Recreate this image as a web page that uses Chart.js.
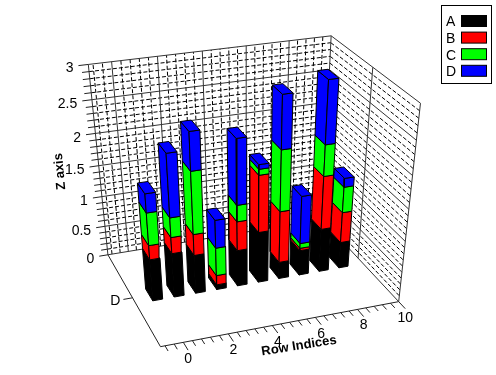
<!DOCTYPE html>
<html>
<head>
<meta charset="utf-8">
<script src="https://cdn.jsdelivr.net/npm/chart.js@4/dist/chart.umd.min.js"></script>
<style>
  html, body { margin: 0; padding: 0; background: #fff; }
  canvas { display: block; }
</style>
</head>
<body>
<canvas id="myChart" width="496" height="375"></canvas>
<script>
// stacked heights, one entry per row index 0..9
const rowIndices = [0, 1, 2, 3, 4, 5, 6, 7, 8, 9];
const seriesA = [0.69, 0.73, 0.64, 0.08, 0.60, 0.84, 0.28, 0.42, 0.72, 0.44];
const seriesB = [0.23, 0.26, 0.34, 0.16, 0.47, 0.90, 0.84, 0.04, 0.85, 0.50];
const seriesC = [0.51, 0.31, 0.97, 0.46, 0.26, 0.09, 0.95, 0.08, 0.48, 0.41];
const seriesD = [0.29, 0.96, 0.57, 0.45, 1.00, 0.07, 0.79, 0.77, 0.93, 0.14];
const seriesNames = ['A', 'B', 'C', 'D'];
const seriesColors = ['#000000', '#ff0000', '#00ff00', '#0000ff'];
const zTicks = ['0', '0.5', '1', '1.5', '2', '2.5', '3'];
const xTicks = ['0', '2', '4', '6', '8', '10'];

const xMin = -1, xMax = 10, zMax = 3;
const rowY = 0.5, barW = 0.23, barD = 0.065;

// where the corners of the box land on the page (x, y, z as fractions -> px)
const corners = [
  [0, 1, 0, 107.7, 256], [1, 1, 0, 322.6, 218], [1, 0, 0, 398, 303], [0, 0, 0, 160.7, 345.7],
  [0, 1, 1, 88.3, 64], [1, 1, 1, 330.7, 36.7], [1, 0, 1, 421, 102.7]
];

// least squares fit of the camera matrix from the corners
function fitCamera(pts) {
  const n = 11, A = [], b = [];
  pts.forEach(([X, Y, Z, u, v]) => {
    A.push([X, Y, Z, 1, 0, 0, 0, 0, -u * X, -u * Y, -u * Z]); b.push(u);
    A.push([0, 0, 0, 0, X, Y, Z, 1, -v * X, -v * Y, -v * Z]); b.push(v);
  });
  const M = [];
  for (let i = 0; i < n; i++) {
    M.push([]);
    for (let j = 0; j < n; j++) M[i].push(A.reduce((s, r) => s + r[i] * r[j], 0));
    M[i].push(A.reduce((s, r, k) => s + r[i] * b[k], 0));
  }
  for (let i = 0; i < n; i++) {
    let p = i;
    for (let k = i + 1; k < n; k++) if (Math.abs(M[k][i]) > Math.abs(M[p][i])) p = k;
    [M[i], M[p]] = [M[p], M[i]];
    for (let k = 0; k < n; k++) {
      if (k === i) continue;
      const f = M[k][i] / M[i][i];
      for (let j = i; j <= n; j++) M[k][j] -= f * M[i][j];
    }
  }
  return M.map((r, i) => r[n] / r[i]);
}
const cam = fitCamera(corners);

// x in row units, y fraction front->back, z in data units
function project(x, y, z) {
  const X = (x - xMin) / (xMax - xMin), Z = z / zMax;
  const w = cam[8] * X + cam[9] * y + cam[10] * Z + 1;
  return {
    x: (cam[0] * X + cam[1] * y + cam[2] * Z + cam[3]) / w,
    y: (cam[4] * X + cam[5] * y + cam[6] * Z + cam[7]) / w
  };
}

const painted = [];  // back to front

function poly(points, color) {
  painted.push({
    data: points.concat([points[0]]),
    borderColor: '#000', borderWidth: 1, backgroundColor: color, fill: 'shape',
    pointRadius: 0, tension: 0, borderJoinStyle: 'miter'
  });
}
function lines(segs, width, dash, color) {
  const data = [];
  segs.forEach(s => { data.push(s[0], s[1], { x: NaN, y: NaN }); });
  painted.push({
    data: data, borderColor: color, borderWidth: width, borderDash: dash,
    fill: false, pointRadius: 0, tension: 0, spanGaps: false
  });
}

// walls
const solid = [], dashed = [], ticks = [];
for (let i = 0; i <= 30; i++) {
  const z = i / 10, major = i % 5 === 0;
  const left = project(xMin, 1, z), mid = project(xMax, 1, z), right = project(xMax, 0, z);
  (major ? solid : dashed).push([left, mid], [mid, right]);
  ticks.push([left, project(xMin - (major ? 0.42 : 0.3), 1, z)]);
}
for (let i = -2; i <= 25; i++) {
  const x = i * 0.4, major = i % 5 === 0;
  if (x < xMin || x > xMax) continue;
  (major ? solid : dashed).push([project(x, 1, 0), project(x, 1, zMax)]);
  ticks.push([project(x, 0, 0), project(x, major ? -0.075 : -0.05, 0)]);
}
solid.push([project(xMin, 1, 0), project(xMin, 1, zMax)]);
solid.push([project(xMax, 0.5, 0), project(xMax, 0.5, zMax)]);
solid.push([project(xMax, 0, 0), project(xMax, 0, zMax)]);
ticks.push([project(xMin, 0.5, 0), project(xMin - 0.42, 0.5, 0)]);
lines(dashed, 1, [4, 2], '#000');
lines(solid, 1, [], '#333');
lines([[project(xMin, 1, 0), project(xMin, 0, 0)], [project(xMin, 0, 0), project(xMax, 0, 0)]].concat(ticks), 1, [], '#222');

// bars, right to left so the nearer ones cover the others
const stacks = [seriesA, seriesB, seriesC, seriesD];
for (let n = rowIndices.length - 1; n >= 0; n--) {
  const x0 = rowIndices[n] - barW, x1 = rowIndices[n] + barW;
  const y0 = rowY - barD, y1 = rowY + barD;
  let base = 0;
  stacks.forEach((s, k) => {
    const top = base + s[n];
    poly([project(x0, y1, base), project(x0, y0, base), project(x0, y0, top), project(x0, y1, top)], seriesColors[k]);
    poly([project(x0, y0, base), project(x1, y0, base), project(x1, y0, top), project(x0, y0, top)], seriesColors[k]);
    base = top;
  });
  poly([project(x0, y1, base), project(x0, y0, base), project(x1, y0, base), project(x1, y1, base)], seriesColors[3]);
}

const labelsPlugin = {
  id: 'labels',
  afterDraw(chart) {
    const ctx = chart.ctx;
    ctx.save();
    ctx.fillStyle = '#000';
    ctx.font = '14px "Liberation Sans"';
    ctx.textBaseline = 'middle';
    ctx.textAlign = 'right';
    zTicks.forEach((t, i) => {
      const p = project(xMin - 0.42, 1, i * 0.5);
      ctx.fillText(t, p.x - 5, p.y + 3);
    });
    const d = project(xMin - 0.42, 0.5, 0);
    ctx.fillText('D', d.x - 3, d.y + 2);
    ctx.textAlign = 'center';
    xTicks.forEach(t => {
      const p = project(+t, -0.075, 0);
      ctx.fillText(t, p.x, p.y + 9);
    });
    ctx.font = 'bold 13px "Liberation Sans"';
    ctx.save();
    ctx.translate(299, 346);
    ctx.rotate(-9 * Math.PI / 180);
    ctx.fillText('Row Indices', 0, 0);
    ctx.restore();
    ctx.save();
    ctx.translate(60, 171.5);
    ctx.rotate(-95 * Math.PI / 180);
    ctx.fillText('Z axis', 0, 0);
    ctx.restore();

    // legend box
    ctx.strokeStyle = '#000';
    ctx.lineWidth = 1;
    ctx.strokeRect(441.5, 5.5, 50, 78);
    ctx.font = '14px "Liberation Sans"';
    ctx.textAlign = 'left';
    seriesNames.forEach((name, i) => {
      const top = 15.5 + i * 16.6;
      ctx.fillStyle = '#000';
      ctx.fillText(name, 446, top + 7);
      ctx.fillStyle = seriesColors[i];
      ctx.fillRect(461.5, top, 25, 11);
      ctx.strokeRect(461.5, top, 25, 11);
    });
    ctx.restore();
  }
};

new Chart(document.getElementById('myChart'), {
  type: 'line',
  data: { datasets: painted.reverse() },
  options: {
    responsive: false,
    animation: false,
    layout: { padding: 0 },
    plugins: { legend: { display: false }, tooltip: { enabled: false } },
    scales: {
      x: { type: 'linear', min: 0, max: 496, display: false },
      y: { type: 'linear', min: 0, max: 375, reverse: true, display: false }
    }
  },
  plugins: [labelsPlugin]
});
</script>
</body>
</html>
